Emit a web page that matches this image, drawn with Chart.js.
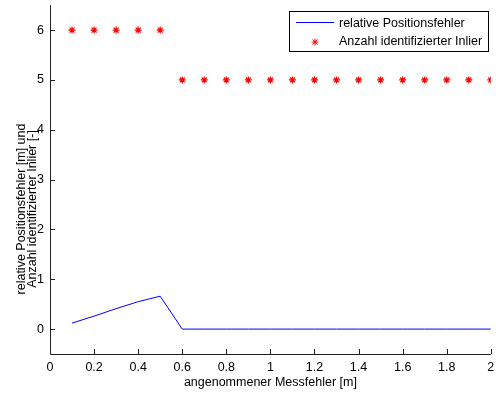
<!DOCTYPE html>
<html>
<head>
<meta charset="utf-8">
<script src="https://cdn.jsdelivr.net/npm/chart.js@4"></script>
<style>
  body { margin: 0; background: #fff; }
  canvas { display: block; }
</style>
</head>
<body>
<canvas id="myChart" width="496" height="394"></canvas>
<script>
const xValues = [0.1, 0.2, 0.3, 0.4, 0.5, 0.6, 0.7, 0.8, 0.9, 1.0, 1.1, 1.2, 1.3, 1.4, 1.5, 1.6, 1.7, 1.8, 1.9, 2.0];
const errorValues = [0.12, 0.26, 0.41, 0.55, 0.66, 0, 0, 0, 0, 0, 0, 0, 0, 0, 0, 0, 0, 0, 0, 0];
const inlierValues = [6, 6, 6, 6, 6, 5, 5, 5, 5, 5, 5, 5, 5, 5, 5, 5, 5, 5, 5, 5];
const xTicks = [0, 0.2, 0.4, 0.6, 0.8, 1, 1.2, 1.4, 1.6, 1.8, 2];
const yTicks = [0, 1, 2, 3, 4, 5, 6];
const seriesLabels = ['relative Positionsfehler', 'Anzahl identifizierter Inlier'];
const xTitle = 'angenommener Messfehler [m]';
const yTitle = ['relative Positionsfehler [m] und', 'Anzahl identifizierter Inlier [-]'];

const FAMILY = '"Liberation Sans", Arial, sans-serif';
const FONT = '12.5px ' + FAMILY;

// inward ticks, axis lines, titles and legend box like the matlab figure
const matlabLook = {
    id: 'matlabLook',
    afterDraw(chart) {
        const ctx = chart.ctx;
        const area = chart.chartArea;
        const xs = chart.scales.x;
        const ys = chart.scales.y;
        ctx.save();
        ctx.strokeStyle = '#222';
        ctx.lineWidth = 1;
        ctx.beginPath();
        ctx.moveTo(area.left + 0.5, area.top);
        ctx.lineTo(area.left + 0.5, area.bottom + 0.5);
        ctx.lineTo(area.right, area.bottom + 0.5);
        xs.ticks.forEach(t => {
            const px = Math.round(xs.getPixelForValue(t.value)) + 0.5;
            ctx.moveTo(px, area.bottom);
            ctx.lineTo(px, area.bottom - 5);
        });
        ys.ticks.forEach(t => {
            const py = Math.round(ys.getPixelForValue(t.value)) + 0.5;
            ctx.moveTo(area.left, py);
            ctx.lineTo(area.left + 5, py);
        });
        ctx.stroke();

        ctx.fillStyle = '#000';
        ctx.font = FONT;
        ctx.textAlign = 'center';
        ctx.textBaseline = 'middle';
        ctx.fillText(xTitle, (area.left + area.right) / 2, 383);

        ctx.save();
        ctx.translate(22, 209);
        ctx.rotate(-Math.PI / 2);
        ctx.fillText(yTitle[0], 0, 0);
        ctx.fillText(yTitle[1], 0, 11);
        ctx.restore();

        // legend
        const lx = 289.5, ly = 11.5, lw = 199, lh = 40;
        ctx.fillStyle = '#fff';
        ctx.fillRect(lx, ly, lw, lh);
        ctx.strokeStyle = '#000';
        ctx.strokeRect(lx, ly, lw, lh);
        ctx.strokeStyle = '#0000ff';
        ctx.beginPath();
        ctx.moveTo(296, 22.5);
        ctx.lineTo(334, 22.5);
        ctx.stroke();
        ctx.strokeStyle = '#ff0000';
        ctx.fillStyle = '#ff0000';
        Chart.helpers.drawPoint(ctx, {pointStyle: 'star', radius: 3.5, borderWidth: 1.2}, 315, 42);
        ctx.fillStyle = '#000';
        ctx.textAlign = 'left';
        ctx.fillText(seriesLabels[0], 339, 24);
        ctx.fillText(seriesLabels[1], 339, 42);
        ctx.restore();
    }
};

new Chart(document.getElementById('myChart'), {
    type: 'scatter',
    data: {
        datasets: [{
            label: seriesLabels[0],
            data: xValues.map((x, i) => ({x: x, y: errorValues[i]})),
            showLine: true,
            borderColor: '#0000ff',
            borderWidth: 1,
            pointRadius: 0,
            tension: 0
        }, {
            label: seriesLabels[1],
            data: xValues.map((x, i) => ({x: x, y: inlierValues[i]})),
            showLine: false,
            pointStyle: 'star',
            pointRadius: 3.5,
            borderColor: '#ff0000',
            backgroundColor: '#ff0000',
            borderWidth: 1.2
        }]
    },
    options: {
        responsive: false,
        animation: false,
        layout: { padding: { top: 5, right: 1, left: 0, bottom: 0 } },
        plugins: {
            legend: { display: false },
            tooltip: { enabled: false }
        },
        scales: {
            x: {
                type: 'linear',
                min: 0,
                max: 2,
                afterBuildTicks: s => { s.ticks = xTicks.map(v => ({value: v})); },
                afterFit: s => {
                    s.height = 40;
                    s.paddingLeft = 0;
                    s.paddingRight = 0;
                },
                grid: { display: false, drawTicks: false },
                border: { display: false },
                ticks: {
                    color: '#000',
                    font: { family: FAMILY, size: 12.5 },
                    padding: 6,
                    maxRotation: 0,
                    callback: v => String(Math.round(v * 10) / 10)
                }
            },
            y: {
                min: -0.5,
                max: 6.5,
                afterBuildTicks: s => { s.ticks = yTicks.map(v => ({value: v})); },
                afterFit: s => {
                    s.width = 50;
                    s.paddingTop = 0;
                    s.paddingBottom = 0;
                },
                grid: { display: false, drawTicks: false },
                border: { display: false },
                ticks: {
                    color: '#000',
                    font: { family: FAMILY, size: 12.5 },
                    padding: 6
                }
            }
        }
    },
    plugins: [matlabLook]
});
</script>
</body>
</html>
